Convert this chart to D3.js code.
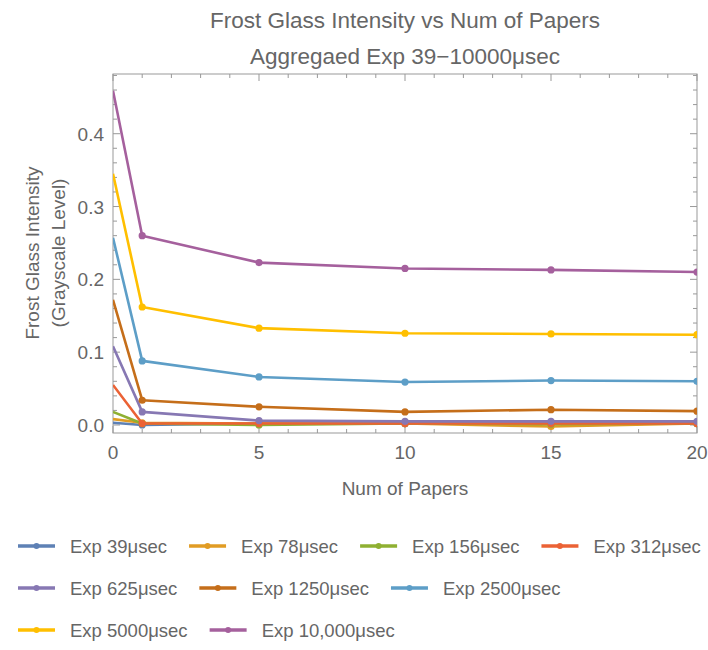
<!DOCTYPE html>
<html>
<head>
<meta charset="utf-8">
<title>Frost Glass Intensity</title>
<style>
  body { margin: 0; background: #fff; }
  text { font-family: "Liberation Sans", Arial, sans-serif; fill: #666; }
</style>
</head>
<body>
<svg id="viz" width="708" height="650"></svg>
<script src="https://d3js.org/d3.v7.min.js"></script>
<script>
// data
var papers = [0, 1, 5, 10, 15, 20];
var seriesNames = ["Exp 39\u03bcsec", "Exp 78\u03bcsec", "Exp 156\u03bcsec", "Exp 312\u03bcsec",
  "Exp 625\u03bcsec", "Exp 1250\u03bcsec", "Exp 2500\u03bcsec", "Exp 5000\u03bcsec", "Exp 10,000\u03bcsec"];
var exp39 = [0.003, 0.000, 0.002, 0.002, 0.002, 0.002];
var exp78 = [0.008, 0.003, 0.002, 0.002, -0.002, 0.002];
var exp156 = [0.018, 0.002, 0.000, 0.002, 0.001, 0.002];
var exp312 = [0.055, 0.002, 0.002, 0.002, 0.002, 0.002];
var exp625 = [0.108, 0.018, 0.006, 0.005, 0.005, 0.005];
var exp1250 = [0.172, 0.034, 0.025, 0.018, 0.021, 0.019];
var exp2500 = [0.257, 0.088, 0.066, 0.059, 0.061, 0.060];
var exp5000 = [0.345, 0.162, 0.133, 0.126, 0.125, 0.124];
var exp10000 = [0.459, 0.260, 0.223, 0.215, 0.213, 0.210];
var allSeries = [exp39, exp78, exp156, exp312, exp625, exp1250, exp2500, exp5000, exp10000];
var colors = ["#5E81B5", "#E19C24", "#8FB032", "#EB6235", "#8778B3", "#C56E1A", "#5D9EC7", "#FFBF00", "#A5609D"];
var xTickLabels = [0, 5, 10, 15, 20];
var yTickLabels = ["0.0", "0.1", "0.2", "0.3", "0.4"];

var svg = d3.select("#viz");
var pLeft = 113, pRight = 697, pTop = 74, pBottom = 433;

var x = d3.scaleLinear().domain([0, 20]).range([pLeft, pRight]);
var y = d3.scaleLinear().domain([-0.011, 0.482]).range([pBottom, pTop]);

// titles
svg.append("text").attr("x", 405).attr("y", 28).attr("text-anchor", "middle")
  .style("font-size", "22.5px").text("Frost Glass Intensity vs Num of Papers");
svg.append("text").attr("x", 405).attr("y", 64).attr("text-anchor", "middle")
  .style("font-size", "22.5px").text("Aggregaed Exp 39\u221210000\u03bcsec");

// frame + ticks on all four sides, pointing inward
var frameColor = "#999";
var g = svg.append("g");
g.append("rect").attr("x", pLeft).attr("y", pTop).attr("width", pRight - pLeft).attr("height", pBottom - pTop)
  .attr("fill", "none").attr("stroke", frameColor).attr("stroke-width", 1);

d3.range(0, 21, 1).forEach(function(t) {
  var len = t % 5 === 0 ? 7 : 4;
  g.append("line").attr("x1", x(t)).attr("x2", x(t)).attr("y1", pBottom).attr("y2", pBottom - len).attr("stroke", frameColor);
  g.append("line").attr("x1", x(t)).attr("x2", x(t)).attr("y1", pTop).attr("y2", pTop + len).attr("stroke", frameColor);
});
d3.range(0, 25).forEach(function(i) {
  var t = i * 0.02;
  var len = i % 5 === 0 ? 7 : 4;
  g.append("line").attr("x1", pLeft).attr("x2", pLeft + len).attr("y1", y(t)).attr("y2", y(t)).attr("stroke", frameColor);
  g.append("line").attr("x1", pRight).attr("x2", pRight - len).attr("y1", y(t)).attr("y2", y(t)).attr("stroke", frameColor);
});

xTickLabels.forEach(function(t) {
  svg.append("text").attr("x", x(t)).attr("y", 459).attr("text-anchor", "middle")
    .style("font-size", "19px").text(t);
});
yTickLabels.forEach(function(lab, i) {
  svg.append("text").attr("x", 104).attr("y", y(i * 0.1) + 7).attr("text-anchor", "end")
    .style("font-size", "19px").text(lab);
});

svg.append("text").attr("x", 405).attr("y", 495).attr("text-anchor", "middle")
  .style("font-size", "19px").text("Num of Papers");
svg.append("text").attr("transform", "translate(39,253) rotate(-90)").attr("text-anchor", "middle")
  .style("font-size", "19px").text("Frost Glass Intensity");
svg.append("text").attr("transform", "translate(65,253) rotate(-90)").attr("text-anchor", "middle")
  .style("font-size", "19px").text("(Grayscale Level)");

// lines
svg.append("clipPath").attr("id", "plotClip").append("rect")
  .attr("x", pLeft).attr("y", pTop).attr("width", pRight - pLeft).attr("height", pBottom - pTop);
var plot = svg.append("g").attr("clip-path", "url(#plotClip)");
var line = d3.line().x(function(d) { return x(d[0]); }).y(function(d) { return y(d[1]); });

allSeries.forEach(function(vals, si) {
  var pts = papers.map(function(p, i) { return [p, vals[i]]; });
  plot.append("path").datum(pts).attr("d", line).attr("fill", "none")
    .attr("stroke", colors[si]).attr("stroke-width", 2.6).attr("stroke-linejoin", "round");
  // the points on the left frame edge don't show in the original
  plot.selectAll(".dot" + si).data(pts.filter(function(d) { return d[0] > 0; })).enter().append("circle")
    .attr("cx", function(d) { return x(d[0]); })
    .attr("cy", function(d) { return y(d[1]); })
    .attr("r", 3.6).attr("fill", colors[si]);
});

// legend, flowing across rows
var lx = 18, ly = 546, maxW = 708;
seriesNames.forEach(function(name, i) {
  var item = svg.append("g");
  var t = item.append("text").attr("x", 52).attr("y", 7).style("font-size", "18.5px").text(name);
  var w = 52 + t.node().getComputedTextLength();
  if (lx + w > maxW) { lx = 18; ly += 42; }
  item.attr("transform", "translate(" + lx + "," + ly + ")");
  item.append("line").attr("x1", 0).attr("x2", 37).attr("y1", 0).attr("y2", 0)
    .attr("stroke", colors[i]).attr("stroke-width", 3.5);
  item.append("circle").attr("cx", 18.5).attr("cy", 0).attr("r", 3).attr("fill", colors[i]);
  lx += w + 22;
});
</script>
</body>
</html>
